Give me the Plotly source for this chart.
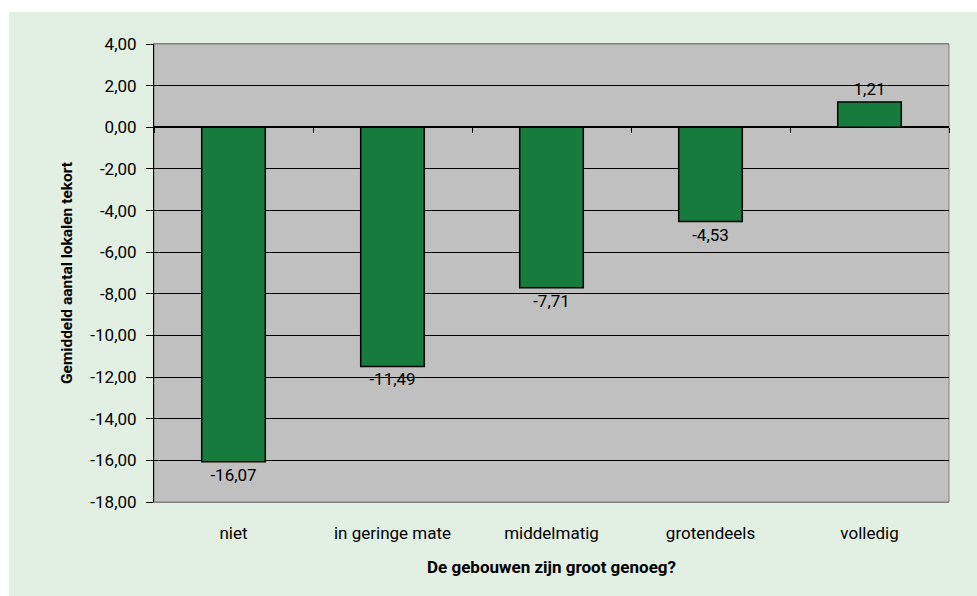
import plotly.graph_objects as go

categories = ["niet", "in geringe mate", "middelmatig", "grotendeels", "volledig"]
values = [-16.07, -11.49, -7.71, -4.53, 1.21]
y_tickvals = [4, 2, 0, -2, -4, -6, -8, -10, -12, -14, -16, -18]
y_ticktext = ["4,00", "2,00", "0,00", "-2,00", "-4,00", "-6,00", "-8,00", "-10,00",
              "-12,00", "-14,00", "-16,00", "-18,00"]
x_title = "De gebouwen zijn groot genoeg?"
y_title = "Gemiddeld aantal lokalen tekort"

labels = [f"{v:.2f}".replace(".", ",") for v in values]

FONT = "Roboto, Liberation Sans Narrow, sans-serif"
PAPER = "#e2efe3"
GREEN = "#177b3e"

fig = go.Figure()
fig.add_trace(go.Bar(
    x=categories, y=values, text=labels, textposition="outside",
    textfont=dict(size=17, color="black", family=FONT),
    marker=dict(color=GREEN, line=dict(color="black", width=1.5)),
    width=0.4, cliponaxis=False, hoverinfo="skip",
))
# helper trace for the category-boundary ticks on the zero line
fig.add_trace(go.Scatter(x=categories, y=[None] * len(categories), xaxis="x2",
                         mode="markers", showlegend=False, hoverinfo="skip"))

L, R, T, B = 154, 28, 44, 94
W, H = 977 - L - R, 596 - T - B

fig.update_layout(
    width=977, height=596,
    margin=dict(l=L, r=R, t=T, b=B),
    paper_bgcolor=PAPER, plot_bgcolor="#c0c0c0",
    showlegend=False,
    font=dict(family=FONT, size=17, color="black"),
    xaxis=dict(
        type="category", range=[-0.5, 4.5],
        showline=True, linecolor="#808080", linewidth=1, mirror=True,
        ticks="", ticklabelstandoff=16,
        tickfont=dict(size=17, family=FONT),
        title=dict(text=f"<b>{x_title}</b>", font=dict(size=17, family=FONT), standoff=18),
        showgrid=False, zeroline=False,
    ),
    xaxis2=dict(
        type="category", range=[-0.5, 4.5], overlaying="x", anchor="free",
        position=18 / 22, tickson="boundaries", ticks="outside", ticklen=5,
        tickcolor="black", tickwidth=1, showticklabels=False, showline=False,
        showgrid=False, zeroline=False, side="bottom",
    ),
    yaxis=dict(
        range=[-18, 4], tickvals=y_tickvals, ticktext=y_ticktext,
        showline=True, linecolor="black", linewidth=1,
        ticks="outside", ticklen=7, tickcolor="black", ticklabelstandoff=6,
        tickfont=dict(size=17, family=FONT),
        showgrid=True, gridcolor="black", gridwidth=1,
        zeroline=True, zerolinecolor="black", zerolinewidth=1.5,
        title=dict(text=f"<b>{y_title}</b>", font=dict(size=15.5, family=FONT), standoff=13),
    ),
    bargap=0.6,
    shapes=[
        dict(type="rect", xref="paper", yref="paper", layer="below",
             x0=0, x1=1, y0=0, y1=1, line=dict(color="#808080", width=1),
             fillcolor="rgba(0,0,0,0)"),
        dict(type="rect", xref="paper", yref="paper", layer="below",
             x0=-L / W - 0.01, x1=1 + R / W + 0.01,
             y0=1 + (T - 12) / H, y1=1 + T / H + 0.01,
             line=dict(width=0), fillcolor="white"),
        dict(type="rect", xref="paper", yref="paper", layer="below",
             x0=-L / W - 0.01, x1=-(L - 9) / W,
             y0=-B / H - 0.01, y1=1 + T / H + 0.01,
             line=dict(width=0), fillcolor="white"),
    ],
)

fig.write_html("out.html")
